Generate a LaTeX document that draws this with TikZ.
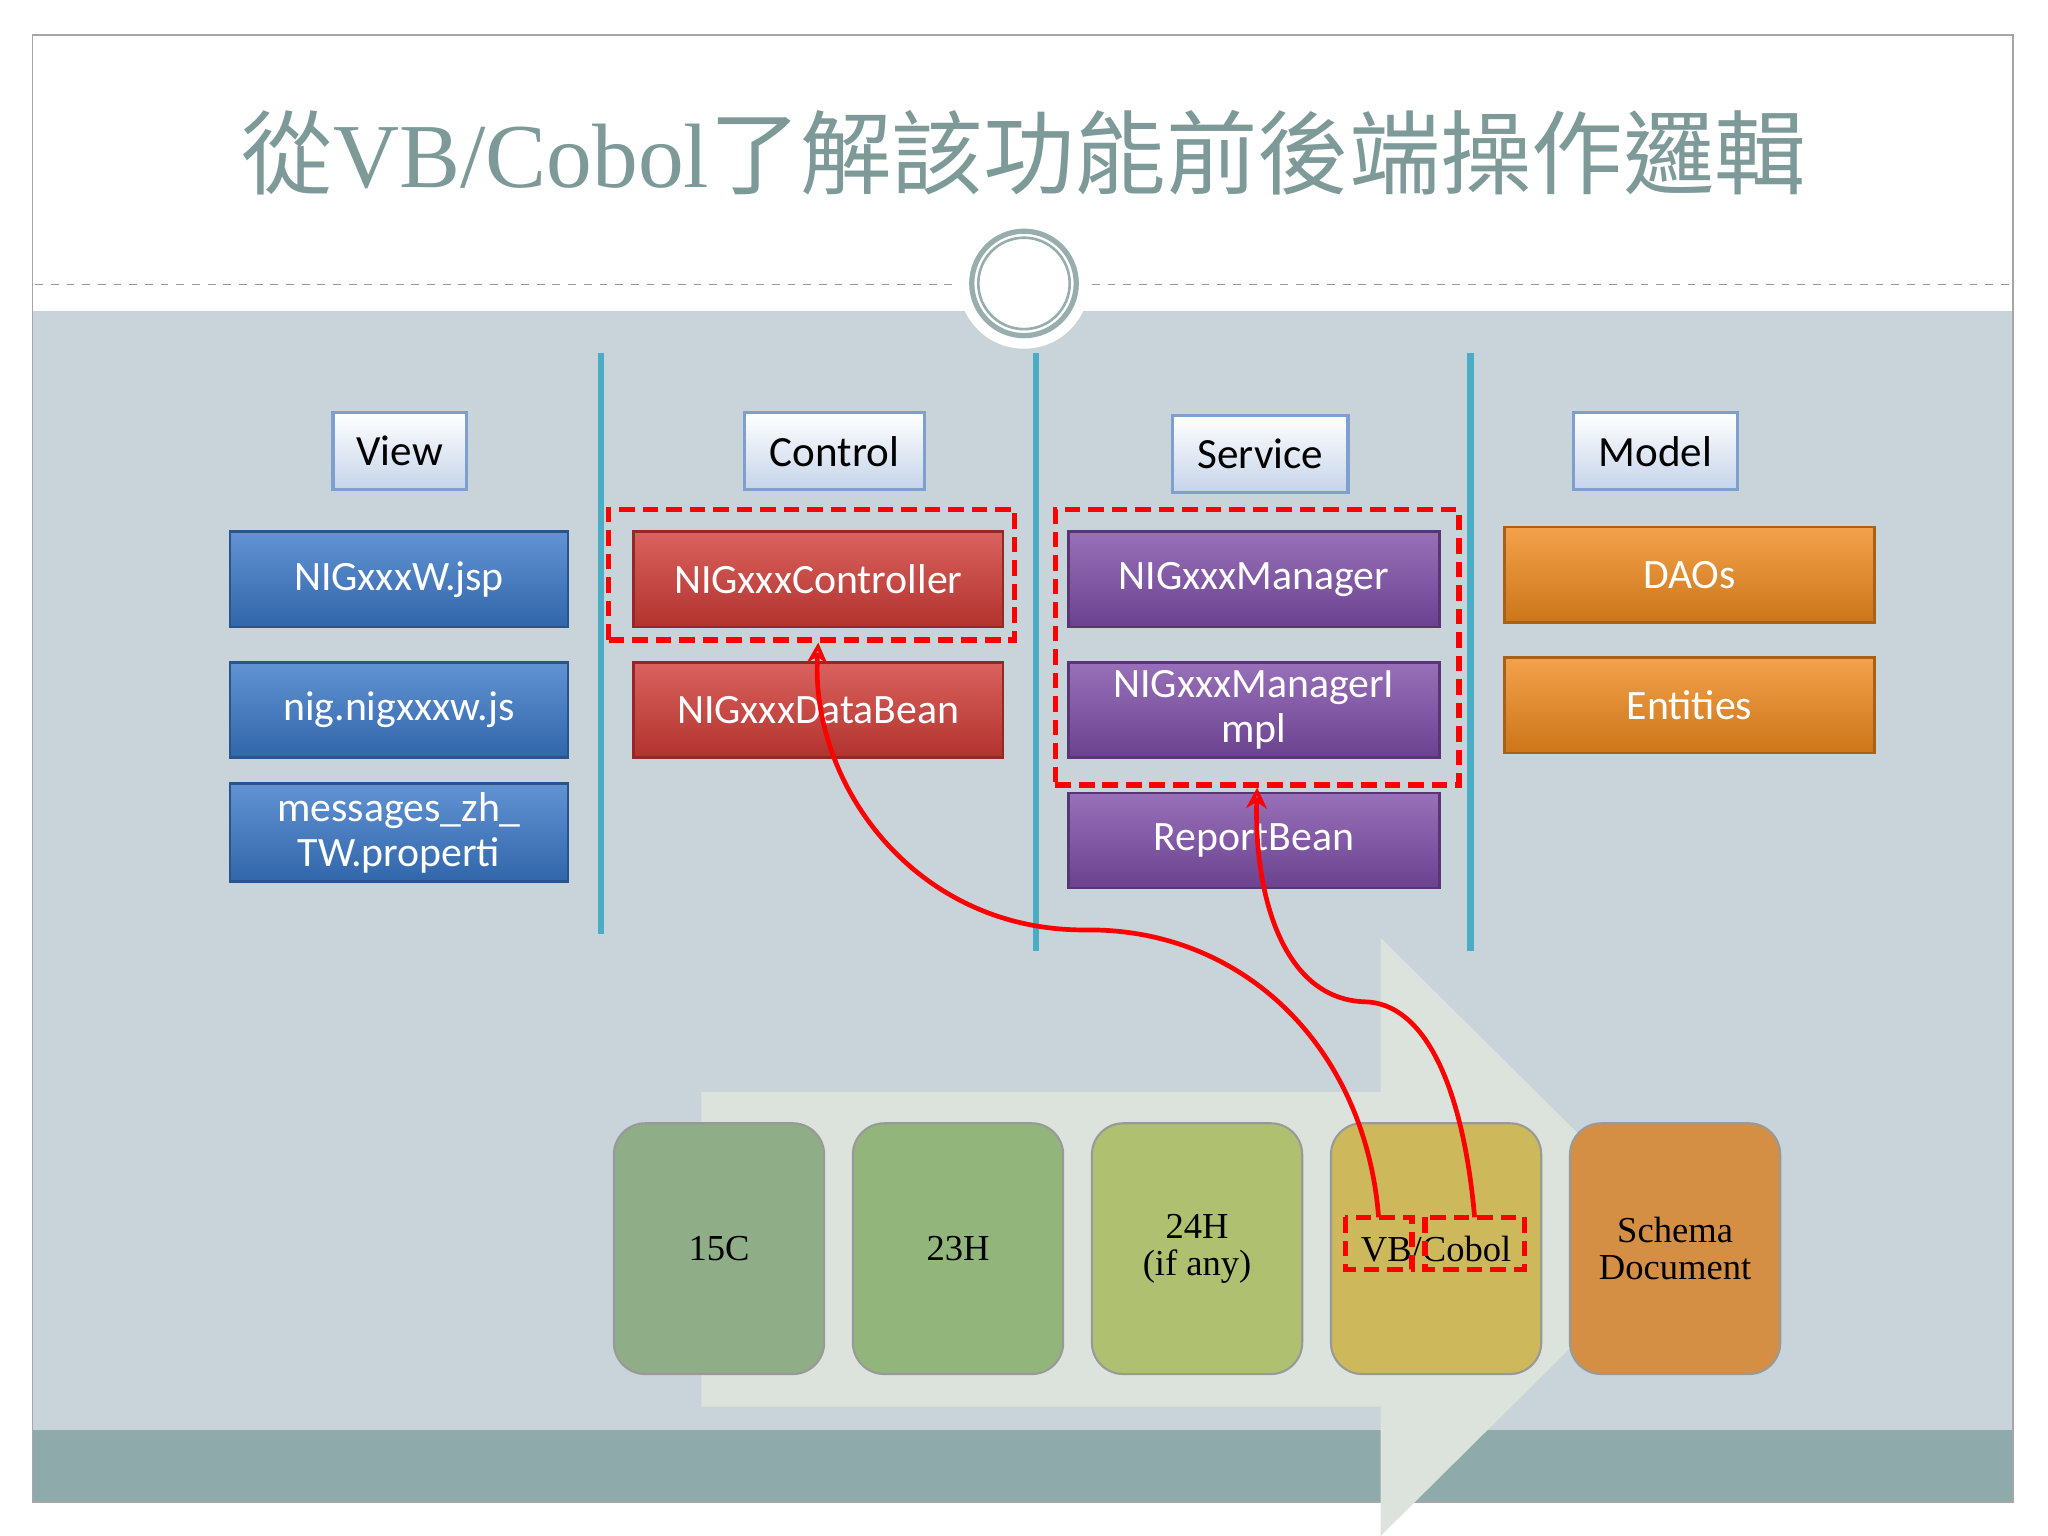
\documentclass[tikz,border=0pt]{standalone}
\usepackage{fontspec}
\setmainfont{Liberation Serif}
\newfontfamily\cjk{Noto Sans CJK TC}
\newfontfamily\boxfont{Carlito}
\usetikzlibrary{arrows.meta}
\definecolor{bgb}{HTML}{C8D4DA}
\definecolor{band}{HTML}{8FAAAB}
\definecolor{ttl}{HTML}{7D9A99}
\definecolor{vline}{HTML}{4BACC6}
\definecolor{hb}{HTML}{7F9FCF}
\definecolor{cblue}{HTML}{3A78C8}
\definecolor{cred}{HTML}{D13B36}
\definecolor{cpur}{HTML}{7E4DA8}
\definecolor{cora}{HTML}{F08A1E}
\definecolor{arr}{HTML}{DCE3DC}
\definecolor{g1}{RGB}{143,174,136}
\definecolor{g2}{RGB}{146,181,123}
\definecolor{g3}{RGB}{175,193,113}
\definecolor{g4}{RGB}{205,184,92}
\definecolor{g5}{RGB}{212,143,69}
\tikzset{
 hdr/.style={draw=hb,line width=1.2pt,top color=white,bottom color=hb!45,minimum width=#1,minimum height=29.5,font=\boxfont\fontsize{16.5}{18}\selectfont,inner sep=0pt},
 bx/.style={draw=#1!70!black,line width=1pt,top color=#1!80!white,bottom color=#1!85!black,minimum width=129.5,minimum height=36.5,text=white,font=\boxfont\fontsize{16}{17}\selectfont,inner sep=0pt,align=center},
 rs/.style={draw=black!40,line width=0.8pt,fill=#1,rounded corners=12,minimum width=80.5,minimum height=96,font=\fontsize{14}{14}\selectfont,align=center,inner sep=0pt},
 rd/.style={draw=red,line width=2pt,dash pattern=on 6pt off 3pt},
 rarrow/.style={red,line width=1.8pt,-{Stealth[length=8pt,width=8pt,open]}}
}
\begin{document}
\begin{tikzpicture}[x=0.5pt,y=-0.5pt]
\useasboundingbox (0,0) rectangle (1568,1176);
\fill[white] (0,0) rectangle (1568,1176);
\fill[bgb] (25,238) rectangle (1541,1095);
\fill[band] (25,1095) rectangle (1541,1150);
\draw[black!35,line width=0.6pt] (25,27) rectangle (1541,1150);
\draw[black!40,dashed,line width=0.5pt] (27,218) -- (730,218);
\draw[black!40,dashed,line width=0.5pt] (836,218) -- (1541,218);
\fill[white] (784,217) circle (50);
\draw[ttl!80,line width=2pt] (784,217) circle (40);
\draw[ttl!80,line width=1pt] (784,217) circle (35);
\node (title) at (784,117) {\color{ttl}\fontsize{35}{40}\selectfont{\cjk 從}VB/Cobol{\cjk 了解該功能前後端操作邏輯}};
\foreach \x/\b in {460/715,793/728,1126/728} \draw[vline,line width=2.5pt] (\x,270) -- (\x,\b);
\node[hdr=51] (view) at (306,345.5) {View};
\node[hdr=69] (ctl) at (639,345.5) {Control};
\node[hdr=67] (svc) at (965,347.5) {Service};
\node[hdr=62.5] (mdl) at (1267.5,345.5) {Model};
\node[bx=cblue] (b1) at (305.5,443.5) {NIGxxxW.jsp};
\node[bx=cblue] (b2) at (305.5,543.5) {nig.nigxxxw.js};
\node[bx=cblue,minimum height=37.5] (b3) at (305.5,637.5) {messages\_zh\_\\TW.properti};
\node[bx=cred,minimum width=141.5] (r1) at (626.5,443.5) {NIGxxxController};
\node[bx=cred,minimum width=141.5] (r2) at (626.5,543.5) {NIGxxxDataBean};
\node[bx=cpur,minimum width=142] (p1) at (960,443.5) {NIGxxxManager};
\node[bx=cpur,minimum width=142] (p2) at (960,543.5) {NIGxxxManagerI\\mpl};
\node[bx=cpur,minimum width=142] (p3) at (960,643.5) {ReportBean};
\node[bx=cora,minimum width=141.5] (o1) at (1293.5,440) {DAOs};
\node[bx=cora,minimum width=141.5] (o2) at (1293.5,540) {Entities};
\node[rd,minimum width=155.5,minimum height=50,inner sep=0pt] (dc) at (621.5,440) {};
\node[rd,minimum width=154.5,minimum height=105.5,inner sep=0pt] (ds) at (962.5,495.5) {};
\fill[arr] (537,836) -- (1057,836) -- (1057,718) -- (1288,947) -- (1057,1176) -- (1057,1077) -- (537,1077) -- cycle;
\node[rs=g1] (s1) at (550.5,956) {15C};
\node[rs=g2] (s2) at (733.5,956) {23H};
\node[rs=g3] (s3) at (916.5,956) {24H\\(if any)};
\node[rs=g4] (s4) at (1099.5,956) {VB/Cobol};
\node[rs=g5] (s5) at (1282.5,956) {Schema\\Document};
\coordinate (v1) at (1055.5,932);
\coordinate (v2) at (1129,932);
\draw[rd] (1030,932) rectangle (1081,972);
\draw[rd] (1091,932) rectangle (1167,972);
\draw[rarrow] (v1) .. controls (1045,800) and (950,710) .. (830,712) .. controls (700,712) and (620,600) .. (dc.south-|r1);
\draw[rarrow] (v2) .. controls (1120,830) and (1090,768) .. (1045,767) .. controls (980,765) and (960,680) .. (ds.south);
\end{tikzpicture}
\end{document}
